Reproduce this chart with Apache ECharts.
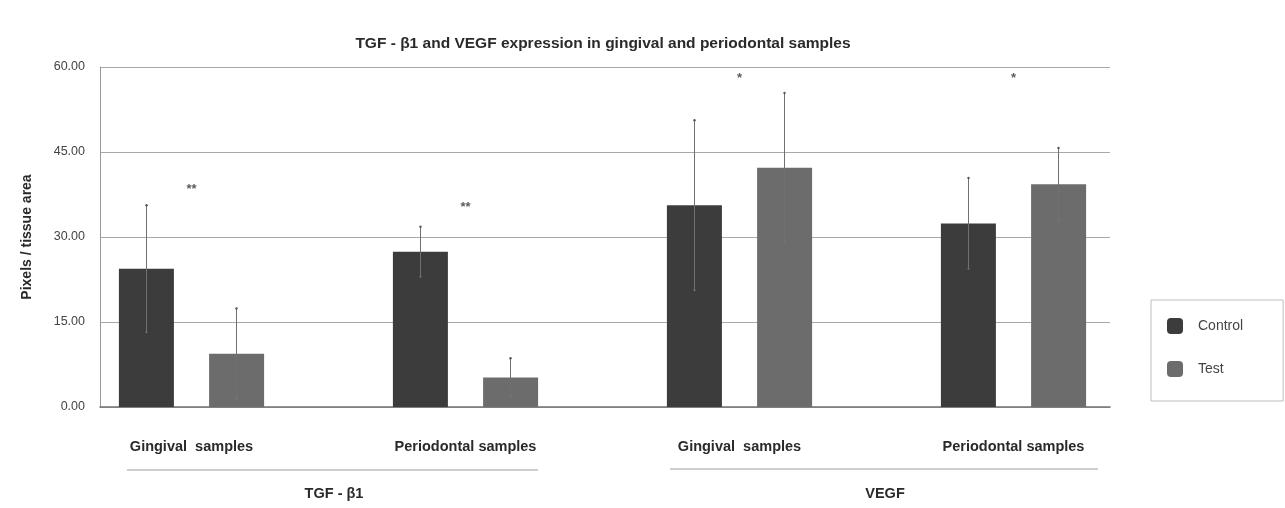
<!DOCTYPE html>
<html>
<head>
<meta charset="utf-8">
<script src="https://cdn.jsdelivr.net/npm/echarts@6/dist/echarts.min.js"></script>
<style>
  html, body { margin: 0; padding: 0; background: #fff; }
  #chartDiv { width: 1285px; height: 508px; }
</style>
</head>
<body>
<div id="chartDiv"></div>
<script>
// data
var categories = ['Gingival  samples', 'Periodontal samples', 'Gingival  samples', 'Periodontal samples'];
var groups = ['TGF - β1', 'VEGF'];
var controlMean = [24.4, 27.4, 35.6, 32.4];
var controlErr = [11.2, 4.4, 15.0, 8.0];
var testMean = [9.4, 5.2, 42.2, 39.3];
var testErr = [8.0, 3.4, 13.2, 6.4];
var sigMarks = ['**', '**', '*', '*'];
var sigLevel = [38.4, 35.3, 57.9, 57.9];
var yTicks = [0, 15, 30, 45, 60];

var fontFam = '"Liberation Sans", Arial, sans-serif';

function errSeries(means, errs, side){
  return {
    type: 'custom',
    xAxisIndex: 1, yAxisIndex: 1,
    z: 5,
    silent: true,
    data: means.map(function(m, i){ return [i, m - errs[i], m + errs[i]]; }),
    renderItem: function(params, api){
      var lo = api.coord([api.value(0), api.value(1)]);
      var hi = api.coord([api.value(0), api.value(2)]);
      var bw = api.size([1, 0])[0];
      var x = lo[0] + side * bw * 45 / 274;
      return {
        type: 'group',
        children: [
          { type: 'line', shape: { x1: x, y1: lo[1], x2: x, y2: hi[1] },
            style: { stroke: '#707070', lineWidth: 1 } },
          { type: 'circle', shape: { cx: x, cy: hi[1], r: 1.2 }, style: { fill: '#555' } },
          { type: 'circle', shape: { cx: x, cy: lo[1], r: 1 }, style: { fill: '#777' } }
        ]
      };
    }
  };
}

var option = {
  backgroundColor: '#ffffff',
  animation: false,
  textStyle: { fontFamily: fontFam },
  title: {
    text: 'TGF - β1 and VEGF expression in gingival and periodontal samples',
    left: 598, top: 31, textAlign: 'center',
    textStyle: { fontSize: 15.5, fontWeight: 'bold', color: '#2a2a2a', fontFamily: fontFam }
  },
  legend: {
    orient: 'vertical',
    left: 1151, top: 300,
    data: ['Control', 'Test'],
    icon: 'path://M4,0 H12 A4,4 0 0 1 16,4 V12 A4,4 0 0 1 12,16 H4 A4,4 0 0 1 0,12 V4 A4,4 0 0 1 4,0 Z',
    itemWidth: 16, itemHeight: 16,
    itemGap: 27,
    padding: [18, 40, 24, 16],
    borderColor: '#bdbdbd', borderWidth: 1,
    textStyle: { fontSize: 14, color: '#444', padding: [0, 0, 0, 10], fontFamily: fontFam }
  },
  grid: [
    { left: 100, right: 175, top: 67, bottom: 101 },
    { left: 54.5, right: 134.5, top: 67, bottom: 101 }
  ],
  xAxis: [
    { type: 'category', gridIndex: 0, data: categories, show: true,
      axisLine: { lineStyle: { color: '#737373', width: 1.6 } },
      axisTick: { show: false }, axisLabel: { show: false } },
    { type: 'category', gridIndex: 1, data: categories,
      axisLine: { show: false }, axisTick: { show: false },
      axisLabel: { margin: 32, fontSize: 14.5, fontWeight: 'bold', color: '#2a2a2a', fontFamily: fontFam } }
  ],
  yAxis: [
    { type: 'value', gridIndex: 0, min: 0, max: 60, interval: 15,
      name: 'Pixels / tissue area', nameLocation: 'middle', nameGap: 66,
      nameTextStyle: { fontSize: 14, fontWeight: 'bold', color: '#2a2a2a', fontFamily: fontFam },
      axisLine: { show: true, lineStyle: { color: '#9a9a9a' } },
      axisTick: { show: false },
      axisLabel: { margin: 15, fontSize: 12.5, color: '#444',
        formatter: function(v){ return yTicks.indexOf(v) >= 0 ? v.toFixed(2) : ''; } },
      splitLine: { lineStyle: { color: '#a8a8a8', width: 1 } } },
    { type: 'value', gridIndex: 1, min: 0, max: 60, interval: 15, show: false }
  ],
  series: [
    { name: 'Control', type: 'bar', xAxisIndex: 1, yAxisIndex: 1,
      data: controlMean, barWidth: 55, barGap: '64%',
      itemStyle: { color: '#3c3c3c' } },
    { name: 'Test', type: 'bar', xAxisIndex: 1, yAxisIndex: 1,
      data: testMean, barWidth: 55,
      itemStyle: { color: '#6c6c6c' } },
    errSeries(controlMean, controlErr, -1),
    errSeries(testMean, testErr, 1),
    { type: 'scatter', xAxisIndex: 1, yAxisIndex: 1, symbolSize: 0, silent: true,
      data: sigLevel.map(function(v, i){ return [i, v]; }),
      label: { show: true, position: 'inside', fontSize: 13, fontWeight: 'bold', color: '#333',
        formatter: function(p){ return sigMarks[p.dataIndex]; } } }
  ],
  graphic: [
    { type: 'line', shape: { x1: 127, y1: 470, x2: 538, y2: 470 }, style: { stroke: '#9c9c9c', lineWidth: 1 } },
    { type: 'line', shape: { x1: 670, y1: 469, x2: 1098, y2: 469 }, style: { stroke: '#9c9c9c', lineWidth: 1 } },
    { type: 'text', x: 334, y: 494, style: { text: groups[0], font: 'bold 14.5px ' + fontFam, fill: '#2a2a2a', textAlign: 'center', textVerticalAlign: 'middle' } },
    { type: 'text', x: 885, y: 494, style: { text: groups[1], font: 'bold 14.5px ' + fontFam, fill: '#2a2a2a', textAlign: 'center', textVerticalAlign: 'middle' } }
  ]
};

var myChart = echarts.init(document.getElementById('chartDiv'));
myChart.setOption(option, true);
</script>
</body>
</html>
